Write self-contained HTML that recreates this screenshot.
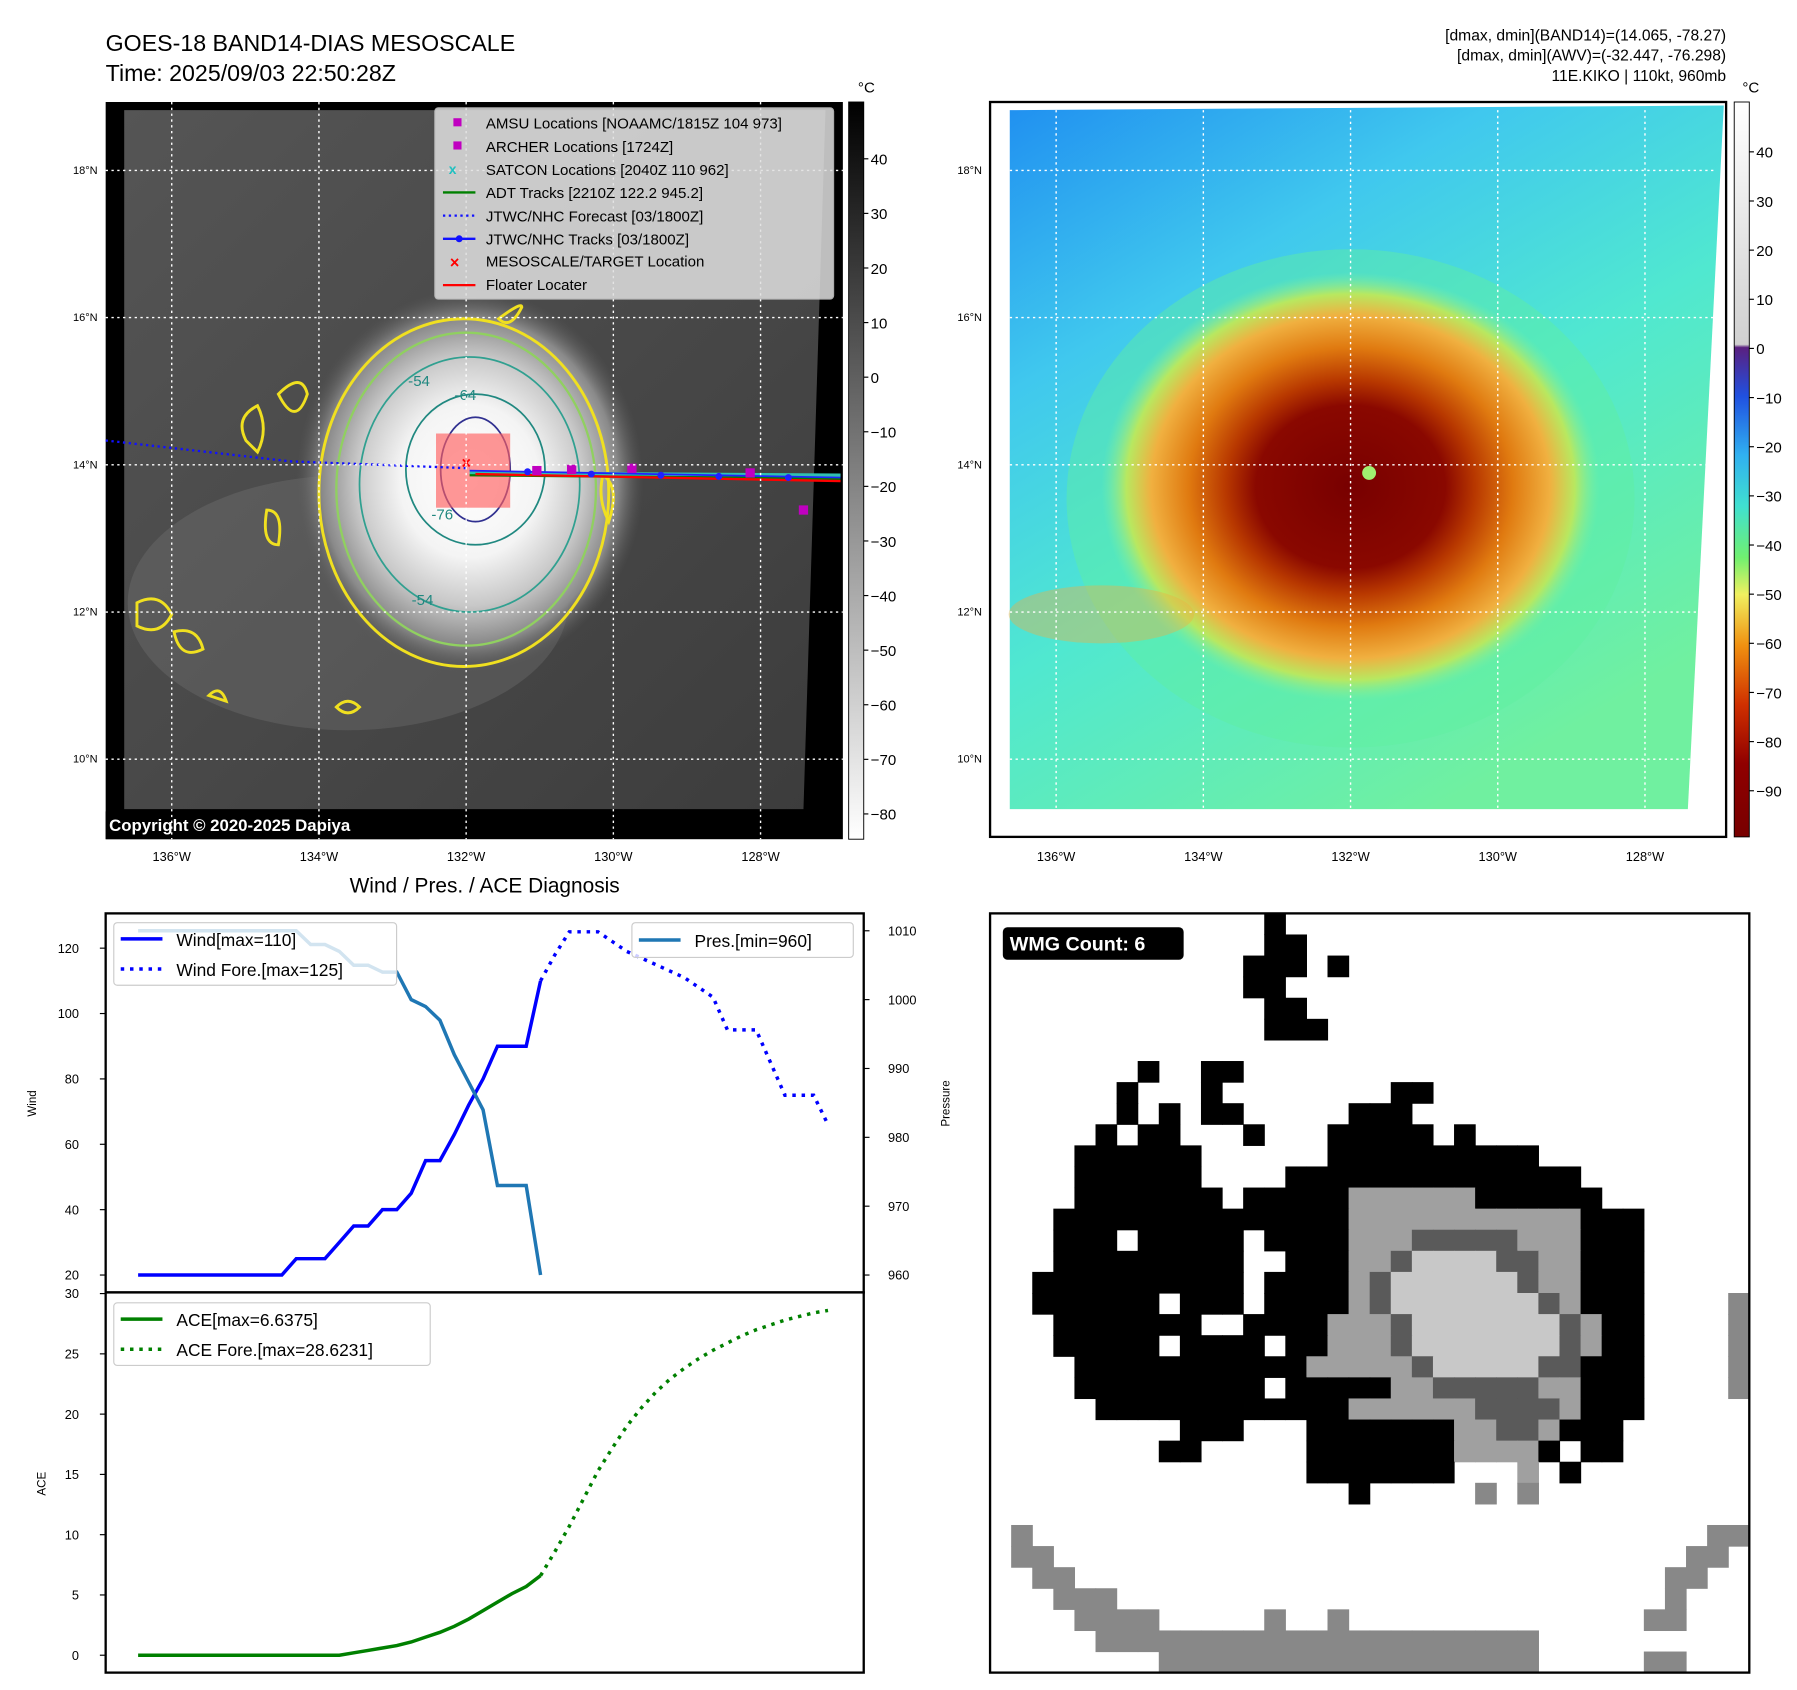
<!DOCTYPE html>
<html><head><meta charset="utf-8"><style>
html,body{margin:0;padding:0;background:#fff;}
svg{display:block;font-family:"Liberation Sans","DejaVu Sans",sans-serif;}
</style></head><body>
<svg id="fig" width="1797" height="1690" viewBox="0 0 1550 1458" xmlns="http://www.w3.org/2000/svg">
<defs>
<radialGradient id="cloud" cx="0.5" cy="0.5" r="0.5">
<stop offset="0" stop-color="#ffffff"/><stop offset="0.4" stop-color="#f4f4f4"/><stop offset="0.65" stop-color="#c8c8c8"/><stop offset="0.85" stop-color="#8a8a8a"/><stop offset="1" stop-color="#5a5a5a" stop-opacity="0"/>
</radialGradient>
<linearGradient id="bgL" x1="0" y1="0" x2="1" y2="1"><stop offset="0" stop-color="#555"/><stop offset="1" stop-color="#3c3c3c"/></linearGradient>
<linearGradient id="cbL" x1="0" y1="0" x2="0" y2="1"><stop offset="0" stop-color="#000"/><stop offset="1" stop-color="#fff"/></linearGradient>
<linearGradient id="bgR" x1="0" y1="0" x2="0.6" y2="1"><stop offset="0" stop-color="#2090f0"/><stop offset="0.3" stop-color="#40c8ee"/><stop offset="0.6" stop-color="#50e8d0"/><stop offset="1" stop-color="#70f0a0"/></linearGradient>
<radialGradient id="storm" cx="0.5" cy="0.5" r="0.5">
<stop offset="0" stop-color="#780000"/><stop offset="0.38" stop-color="#8a0800"/><stop offset="0.5" stop-color="#b83800"/><stop offset="0.65" stop-color="#e07a10"/><stop offset="0.8" stop-color="#f0b040"/><stop offset="0.9" stop-color="#b8e860"/><stop offset="1" stop-color="#80f0a0" stop-opacity="0"/>
</radialGradient>
<linearGradient id="cbR" x1="0" y1="0" x2="0" y2="1">
<stop offset="0" stop-color="#ffffff"/><stop offset="0.33" stop-color="#d0d0d0"/><stop offset="0.334" stop-color="#5a2080"/><stop offset="0.40" stop-color="#2050e0"/><stop offset="0.48" stop-color="#30b0f0"/><stop offset="0.55" stop-color="#40e0d0"/><stop offset="0.62" stop-color="#70f070"/><stop offset="0.67" stop-color="#f0f060"/><stop offset="0.74" stop-color="#f09010"/><stop offset="0.82" stop-color="#d03000"/><stop offset="0.9" stop-color="#900000"/><stop offset="1" stop-color="#780000"/>
</linearGradient>
</defs>

<text x="91" y="44" font-size="20">GOES-18 BAND14-DIAS MESOSCALE</text>
<text x="91" y="70" font-size="20">Time: 2025/09/03 22:50:28Z</text>
<g font-size="13.5" text-anchor="end">
<text x="1489" y="35">[dmax, dmin](BAND14)=(14.065, -78.27)</text>
<text x="1489" y="52">[dmax, dmin](AWV)=(-32.447, -76.298)</text>
<text x="1489" y="70">11E.KIKO | 110kt, 960mb</text>
</g>

<g>
<rect x="91" y="88" width="636" height="636" fill="#000"/>
<polygon points="107,95 712,95 693,698 107,698" fill="url(#bgL)"/>
<ellipse cx="300" cy="520" rx="190" ry="110" fill="#888" opacity="0.25"/>
<ellipse cx="405" cy="415" rx="150" ry="165" fill="url(#cloud)"/>
<ellipse cx="400" cy="425" rx="125" ry="150" fill="none" stroke="#f0e020" stroke-width="2.5"/>
<ellipse cx="402" cy="422" rx="112" ry="135" fill="none" stroke="#90d060" stroke-width="2"/>
<ellipse cx="405" cy="418" rx="95" ry="110" fill="none" stroke="#30a090" stroke-width="1.5"/>
<ellipse cx="410" cy="405" rx="60" ry="65" fill="none" stroke="#208880" stroke-width="1.5"/>
<ellipse cx="410" cy="405" rx="30" ry="45" fill="none" stroke="#303090" stroke-width="1.5"/>
<g fill="none" stroke="#f0e020" stroke-width="2.5">
<path d="M212,380 q-10,-20 10,-30 q10,20 0,40 z"/><path d="M118,520 q20,-10 30,10 q-10,20 -30,10 z"/><path d="M150,545 q20,-5 25,15 q-20,10 -25,-15 z"/>
<path d="M430,275 q20,-15 20,-10 q-10,20 -20,10 z"/><path d="M230,440 q15,0 10,30 q-15,0 -10,-30 z"/><path d="M290,610 q10,-10 20,0 q-10,10 -20,0 z"/>
<path d="M240,340 q20,-20 25,0 q-10,30 -25,0 z"/><path d="M180,600 q10,-10 15,5 z"/><path d="M520,410 q15,10 5,40 q-10,-20 -5,-40 z"/>
</g>
<rect x="376" y="374" width="64" height="64" fill="#ff6060" opacity="0.65"/>
<g font-size="13" fill="#208880"><text x="352" y="333">-54</text><text x="392" y="345">-64</text><text x="372" y="448">-76</text><text x="355" y="522">-54</text></g>
<polyline points="91,380 250,398 405,404" fill="none" stroke="#1010ff" stroke-width="2" stroke-dasharray="2,3"/>
<line x1="405" y1="408" x2="725" y2="410" stroke="#30c0b0" stroke-width="3"/>
<line x1="405" y1="410" x2="725" y2="413" stroke="#008000" stroke-width="2"/>
<line x1="405" y1="406" x2="725" y2="412" stroke="#2020ff" stroke-width="1.5"/>
<line x1="410" y1="409" x2="725" y2="415" stroke="#ff0000" stroke-width="2"/>
<g fill="#2020ff"><circle cx="455" cy="407" r="3"/><circle cx="510" cy="409" r="3"/><circle cx="570" cy="410" r="3"/><circle cx="620" cy="411" r="3"/><circle cx="680" cy="412" r="3"/></g>
<g fill="#c000c0"><rect x="541" y="400" width="8" height="8"/><rect x="489" y="401" width="8" height="8"/><rect x="643" y="404" width="8" height="8"/><rect x="689" y="436" width="8" height="8"/><rect x="459" y="402" width="8" height="8"/></g>
<text x="398" y="404" font-size="14" fill="#ff0000" font-weight="bold">×</text>
<rect x="91" y="700" width="271" height="24" fill="#000"/>
<text x="94" y="717" font-size="14.5" font-weight="bold" fill="#fff">Copyright © 2020-2025 Dapiya</text>
</g>
<g id="gridL" stroke="#fff" stroke-width="1.2" stroke-dasharray="2,3"></g>

<g>
<rect x="375" y="93" width="344" height="165" fill="#e0e0e0" opacity="0.85" stroke="#ccc" rx="3"/>
<rect x="391" y="102" width="7" height="7" fill="#c000c0"/>
<rect x="391" y="122" width="7" height="7" fill="#c000c0"/>
<text x="387" y="150" font-size="12" fill="#20c0c0" font-weight="bold">x</text>
<line x1="382" y1="166" x2="410" y2="166" stroke="#008000" stroke-width="2"/>
<line x1="382" y1="186" x2="410" y2="186" stroke="#1010ff" stroke-width="2" stroke-dasharray="2,3"/>
<line x1="382" y1="206" x2="410" y2="206" stroke="#1010ff" stroke-width="2"/><circle cx="396" cy="206" r="3" fill="#1010ff"/>
<text x="388" y="231" font-size="14" fill="#ff0000" font-weight="bold">×</text>
<line x1="382" y1="246" x2="410" y2="246" stroke="#ff0000" stroke-width="2"/>
<g font-size="13">
<text x="419" y="111">AMSU Locations [NOAAMC/1815Z 104 973]</text>
<text x="419" y="131">ARCHER Locations [1724Z]</text>
<text x="419" y="151">SATCON Locations [2040Z 110 962]</text>
<text x="419" y="171">ADT Tracks [2210Z 122.2 945.2]</text>
<text x="419" y="191">JTWC/NHC Forecast [03/1800Z]</text>
<text x="419" y="211">JTWC/NHC Tracks [03/1800Z]</text>
<text x="419" y="230">MESOSCALE/TARGET Location</text>
<text x="419" y="250">Floater Locater</text>
</g></g>

<g>
<rect x="732" y="88" width="13" height="636" fill="url(#cbL)" stroke="#000" stroke-width="0.8"/>
<text x="740" y="80" font-size="13">°C</text>
<g id="cbLt" font-size="13"></g>
</g>

<g>
<rect x="854" y="88" width="635" height="634" fill="#fff" stroke="#000" stroke-width="2"/>
<polygon points="871,95 1487,91 1456,698 871,698" fill="url(#bgR)"/>
<ellipse cx="1165" cy="430" rx="245" ry="215" fill="#60f0a0" opacity="0.45"/>
<ellipse cx="1165" cy="420" rx="215" ry="185" fill="url(#storm)"/>
<ellipse cx="950" cy="530" rx="80" ry="25" fill="#f0b040" opacity="0.4"/>
<circle cx="1181" cy="408" r="6" fill="#a0f070"/>
</g>
<g id="gridR" stroke="#fff" stroke-width="1.2" stroke-dasharray="2,3"></g>
<g>
<rect x="1496" y="88" width="13" height="634" fill="url(#cbR)" stroke="#000" stroke-width="0.8"/>
<text x="1503" y="80" font-size="13">°C</text>
<g id="cbRt" font-size="13"></g>
</g>
<g id="latlon" font-size="9.5"></g>

<text x="418" y="770" font-size="18" text-anchor="middle">Wind / Pres. / ACE Diagnosis</text>
<g id="windAx"></g>
<g id="aceAx"></g>

<g id="wmg"></g>
</svg>
<script>
const windObs = [20,20,20,20,20,20,20,20,20,20,20,25,25,25,30,35,35,40,40,45,55,55,63,72,80,90,90,90,110];
const windFore = [110,118,125,125,125,122,119,117,115,113,111,108,105,95,95,95,85,75,75,75,66];
const presObs = [1010,1010,1010,1010,1010,1010,1010,1010,1010,1010,1010,1010,1008,1008,1007,1005,1005,1004,1004,1000,999,997,992,988,984,973,973,973,960];
const aceObs = [0,0,0,0,0,0,0,0,0,0,0,0,0,0,0,0.2,0.4,0.6,0.8,1.1,1.5,1.9,2.4,3.0,3.7,4.4,5.1,5.7,6.6];
const aceFore = [6.6,8.6,10.7,13,15.3,17.2,19,20.5,21.8,22.9,23.8,24.6,25.3,25.9,26.5,27,27.4,27.8,28.1,28.4,28.6];
const windTicks = [20,40,60,80,100,120];
const presTicks = [960,970,980,990,1000,1010];
const aceTicks = [0,5,10,15,20,25,30];
const latTicks = ["18°N","16°N","14°N","12°N","10°N"];
const lonTicks = ["136°W","134°W","132°W","130°W","128°W"];
const irCbTicks = [40,30,20,10,0,-10,-20,-30,-40,-50,-60,-70,-80];
const awvCbTicks = [40,30,20,10,0,-10,-20,-30,-40,-50,-60,-70,-80,-90];
const wmgRows = [
".............#......................",
".............##.....................",
"............###.#...................",
"............##......................",
".............##.....................",
".............###....................",
"....................................",
".......#..##........................",
"......#...#........##...............",
"......#.#.##.....###................",
".....#.##...#...#####.#.............",
"....######......##########..........",
"....######....##############........",
"....#######.#####gggggg######.......",
"...##############ggggggggggg###.....",
"...###.#####.####gggdddddggg###.....",
"...#########..###ggdwwwwddgg###.....",
"..##########.####gdwwwwwwdgg###.....",
"..######.###.####gdwwwwwwwdg###....m",
"...#######..####gggdwwwwwwwdg##....m",
"...#####.####.##gggdwwwwwwwdg##....m",
"....###########gggggdwwwwwdd###....m",
"....#########.#####ggdddddgg###....m",
".....############ggggggddddg###.....",
".........###...#######ggddg###......",
"........##.....#######gggg#.##......",
"...............#######...g.#........",
".................#.....m.m..........",
"....................................",
".m................................mm",
".mm..............................mm.",
"..mm............................mm..",
"...mmm..........................m...",
"....mmmm.....m..m..............mm...",
".....mmmmmmmmmmmmmmmmmmmmm..........",
"........mmmmmmmmmmmmmmmmmm.....mm..."
];
const NS='http://www.w3.org/2000/svg';
function mk(tag, attrs, parent){const e=document.createElementNS(NS,tag);for(const k in attrs)e.setAttribute(k,attrs[k]);parent.appendChild(e);return e;}
const xIdx = i => 119 + i*12.4;
const yWind = v => 1100 - (v-20)*2.82;
const yPres = p => 1100 - (p-960)*5.94;
const yAce = v => 1428 - v*10.4;

const latY=[147,274,401,528,655], lonXL=[148,275,402,529,656], lonXR=[911,1038,1165,1292,1419];
const gL=document.getElementById('gridL'), gR=document.getElementById('gridR'), ll=document.getElementById('latlon');
latTicks.forEach((t,i)=>{
  mk('line',{x1:91,x2:727,y1:latY[i],y2:latY[i]},gL);
  mk('line',{x1:871,x2:1480,y1:latY[i],y2:latY[i]},gR);
  let a=mk('text',{x:84,y:latY[i]+3,'text-anchor':'end'},ll);a.textContent=t;
  
  
  let b=mk('text',{x:847,y:latY[i]+3,'text-anchor':'end'},ll);b.textContent=t;
  
  
});
lonTicks.forEach((t,i)=>{
  mk('line',{x1:lonXL[i],x2:lonXL[i],y1:88,y2:724},gL);
  mk('line',{x1:lonXR[i],x2:lonXR[i],y1:95,y2:700},gR);
  let a=mk('text',{x:lonXL[i],y:743,'text-anchor':'middle','font-size':11},ll);a.textContent=t;
  
  
  let b=mk('text',{x:lonXR[i],y:743,'text-anchor':'middle','font-size':11},ll);b.textContent=t;
  
  
});
const cL=document.getElementById('cbLt');
irCbTicks.forEach(v=>{const y=137+(40-v)*4.71;
  mk('line',{x1:745,x2:749,y1:y,y2:y,stroke:'#000'},cL);
  const t=mk('text',{x:751,y:y+5},cL);t.textContent=(v<0?'\u2212'+(-v):v);
  
  });
const cR=document.getElementById('cbRt');
awvCbTicks.forEach(v=>{const y=131+(40-v)*4.24;
  mk('line',{x1:1509,x2:1513,y1:y,y2:y,stroke:'#000'},cR);
  const t=mk('text',{x:1515,y:y+5},cR);t.textContent=(v<0?'\u2212'+(-v):v);
  
  });

const W=document.getElementById('windAx');
mk('rect',{x:91,y:788,width:654,height:327,fill:'#fff',stroke:'#000','stroke-width':2},W);
windTicks.forEach(v=>{const y=yWind(v);mk('line',{x1:86,x2:91,y1:y,y2:y,stroke:'#000'},W);
  const t=mk('text',{x:68,y:y+4,'font-size':11,'text-anchor':'end'},W);t.textContent=v;
  
  });
presTicks.forEach(v=>{const y=yPres(v);mk('line',{x1:745,x2:750,y1:y,y2:y,stroke:'#000'},W);
  const t=mk('text',{x:766,y:y+4,'font-size':11},W);t.textContent=v;
  
  });
let yl=mk('text',{x:0,y:0,'font-size':10,'text-anchor':'middle',transform:'translate(31,952) rotate(-90)'},W);yl.textContent='Wind';


let pl=mk('text',{x:0,y:0,'font-size':10,'text-anchor':'middle',transform:'translate(819,952) rotate(-90)'},W);pl.textContent='Pressure';


const pts=(arr,off,fy)=>arr.map((v,i)=>xIdx(i+off)+','+fy(v)).join(' ');
let wl=mk('polyline',{points:pts(windObs,0,yWind),fill:'none',stroke:'#0000ff','stroke-width':3},W);


let wf=mk('polyline',{points:pts(windFore,windObs.length-1,yWind),fill:'none',stroke:'#0000ff','stroke-width':3,'stroke-dasharray':'3,5'},W);


let pr=mk('polyline',{points:pts(presObs,0,yPres),fill:'none',stroke:'#1f77b4','stroke-width':3},W);


let lg=mk('g',{},W);


mk('rect',{x:98,y:796,width:244,height:54,fill:'#fff','fill-opacity':0.8,stroke:'#ccc',rx:3},lg);
mk('line',{x1:104,x2:140,y1:810,y2:810,stroke:'#0000ff','stroke-width':3},lg);
mk('line',{x1:104,x2:140,y1:836,y2:836,stroke:'#0000ff','stroke-width':3,'stroke-dasharray':'3,5'},lg);
let t1=mk('text',{x:152,y:816,'font-size':15},lg);t1.textContent='Wind[max=110]';
let t2=mk('text',{x:152,y:842,'font-size':15},lg);t2.textContent='Wind Fore.[max=125]';
let pg=mk('g',{},W);


mk('rect',{x:545,y:796,width:191,height:30,fill:'#fff','fill-opacity':0.8,stroke:'#ccc',rx:3},pg);
mk('line',{x1:551,x2:587,y1:811,y2:811,stroke:'#1f77b4','stroke-width':3},pg);
let t3=mk('text',{x:599,y:817,'font-size':15},pg);t3.textContent='Pres.[min=960]';

const A=document.getElementById('aceAx');
mk('rect',{x:91,y:1115,width:654,height:328,fill:'#fff',stroke:'#000','stroke-width':2},A);
aceTicks.forEach(v=>{const y=yAce(v);mk('line',{x1:86,x2:91,y1:y,y2:y,stroke:'#000'},A);
  const t=mk('text',{x:68,y:y+4,'font-size':11,'text-anchor':'end'},A);t.textContent=v;
  
  });
let al=mk('text',{x:0,y:0,'font-size':10,'text-anchor':'middle',transform:'translate(39,1280) rotate(-90)'},A);al.textContent='ACE';


let ao=mk('polyline',{points:pts(aceObs,0,yAce),fill:'none',stroke:'#008000','stroke-width':3},A);


let af=mk('polyline',{points:pts(aceFore,aceObs.length-1,yAce),fill:'none',stroke:'#008000','stroke-width':3,'stroke-dasharray':'3,5'},A);


let ag=mk('g',{},A);


mk('rect',{x:98,y:1124,width:273,height:54,fill:'#fff','fill-opacity':0.8,stroke:'#ccc',rx:3},ag);
mk('line',{x1:104,x2:140,y1:1138,y2:1138,stroke:'#008000','stroke-width':3},ag);
mk('line',{x1:104,x2:140,y1:1164,y2:1164,stroke:'#008000','stroke-width':3,'stroke-dasharray':'3,5'},ag);
let t4=mk('text',{x:152,y:1144,'font-size':15},ag);t4.textContent='ACE[max=6.6375]';
let t5=mk('text',{x:152,y:1170,'font-size':15},ag);t5.textContent='ACE Fore.[max=28.6231]';

const G=document.getElementById('wmg');
mk('rect',{x:854,y:788,width:655,height:655,fill:'#fff'},G);
const colors={'#':'#000','g':'#a0a0a0','d':'#5a5a5a','w':'#c8c8c8','m':'#888'};
const cs=655/36;
wmgRows.forEach((row,r)=>{
  const s=(row+'.'.repeat(36)).slice(0,36);
  for(let c=0;c<36;c++){const ch=s[c]; if(colors[ch]){
    const e=mk('rect',{x:854+c*cs,y:788+r*cs,width:cs+0.5,height:cs+0.5,fill:colors[ch]},G);
    
    
  }}
});
mk('rect',{x:854,y:788,width:655,height:655,fill:'none',stroke:'#000','stroke-width':2},G);
mk('rect',{x:865,y:800,width:156,height:28,fill:'#000',rx:4},G);
let wt=mk('text',{x:871,y:820,'font-size':17,'font-weight':'bold',fill:'#fff'},G);wt.textContent='WMG Count: 6';


</script>
</body></html>
